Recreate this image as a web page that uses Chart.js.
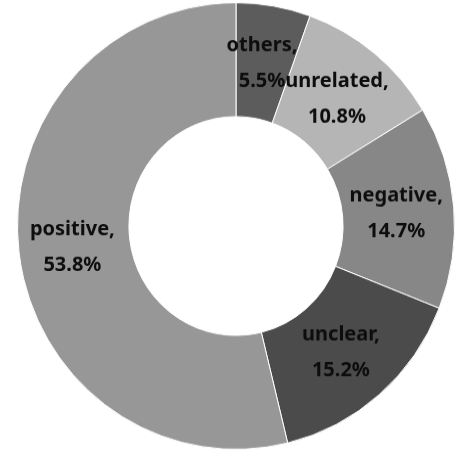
<!DOCTYPE html>
<html>
<head>
<meta charset="utf-8">
<script src="https://cdn.jsdelivr.net/npm/chart.js@4.4.1/dist/chart.umd.min.js"></script>
<style>
  html, body { margin: 0; padding: 0; background: #fff; }
  #wrap { position: absolute; left: 0; top: 0; width: 455px; height: 452px;
          transform: scaleY(1.022); transform-origin: 0 226px; }
</style>
</head>
<body>
<div id="wrap"><canvas id="ring" width="455" height="452"></canvas></div>
<script>
// Share of responses per category, clockwise from 12 o'clock
const categories = ['others', 'unrelated', 'negative', 'unclear', 'positive'];
const shares = [5.5, 10.8, 14.7, 15.2, 53.8];
const sliceColors = ['#5c5c5c', '#b5b5b5', '#878787', '#4b4b4b', '#979797'];

// Two-line "name," / "value%" label at the middle of each slice
const sliceLabels = {
    id: 'sliceLabels',
    afterDatasetsDraw(chart) {
        const ctx = chart.ctx;
        const meta = chart.getDatasetMeta(0);
        ctx.save();
        ctx.font = 'bold 20px "Noto Sans", sans-serif';
        ctx.fillStyle = '#0d0d0d';
        ctx.textAlign = 'center';
        ctx.textBaseline = 'middle';
        meta.data.forEach((arc, i) => {
            const p = arc.tooltipPosition();
            ctx.fillText(categories[i] + ',', p.x - 2, p.y - 16);
            ctx.fillText(shares[i].toFixed(1) + '%', p.x - 2, p.y + 19);
        });
        ctx.restore();
    }
};

new Chart(document.getElementById('ring').getContext('2d'), {
    type: 'doughnut',
    data: {
        labels: categories,
        datasets: [{
            data: shares,
            backgroundColor: sliceColors,
            borderColor: '#ffffff',
            borderWidth: 1
        }]
    },
    options: {
        responsive: false,
        animation: false,
        cutout: '49%',
        layout: { padding: { left: 17, right: 0, top: 6, bottom: 6 } },
        plugins: {
            legend: { display: false },
            tooltip: { enabled: false }
        }
    },
    plugins: [sliceLabels]
});
</script>
</body>
</html>
